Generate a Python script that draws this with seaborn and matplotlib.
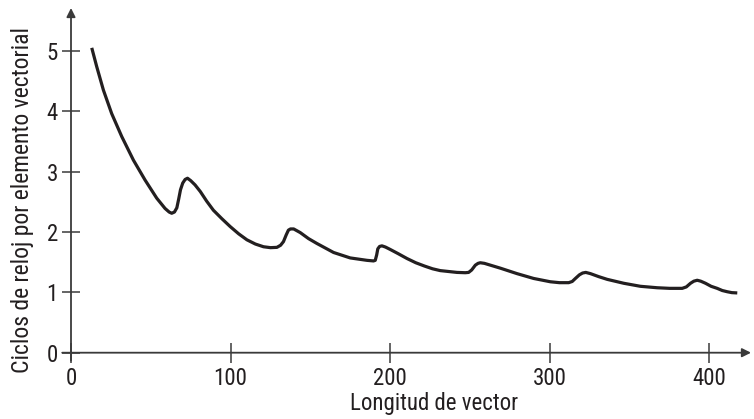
import matplotlib
matplotlib.use("Agg")
import matplotlib.pyplot as plt
from matplotlib import font_manager
import seaborn as sns
import pandas as pd

# values
longitud = [13.0, 16.1, 20.3, 25.5, 31.8, 39.1, 46.4, 53.7, 58.9, 61.5, 63.1, 64.8,
            66.3, 67.5, 68.6, 70.0, 71.5, 73.0, 75.0, 77.7, 81.0, 85.0, 89.2, 94.5,
            99.7, 105.0, 110.2, 115.5, 120.6, 125.0, 129.0, 131.3, 133.1, 134.8, 136.2,
            137.5, 139.5, 143.6, 148.8, 154.0, 164.5, 174.9, 185.4, 189.5, 190.6, 191.5,
            192.2, 193.3, 194.8, 197.0, 200.0, 205.0, 210.5, 216.0, 221.5, 226.5, 231.3,
            241.8, 247.0, 249.1, 251.0, 253.3, 255.0, 256.4, 259.0, 264.0, 269.0, 279.4,
            289.8, 300.3, 306.0, 311.8, 314.0, 316.0, 318.5, 320.5, 322.5, 325.4, 330.6,
            335.9, 346.3, 356.7, 367.2, 375.0, 382.9, 385.5, 388.1, 390.2, 392.3, 394.5,
            397.5, 401.0, 404.8, 408.0, 411.1, 414.0, 417.4]
ciclos = [5.05, 4.74, 4.35, 3.96, 3.58, 3.19, 2.86, 2.56, 2.39, 2.33, 2.31, 2.33,
          2.40, 2.55, 2.70, 2.81, 2.87, 2.89, 2.85, 2.78, 2.67, 2.51, 2.36, 2.22,
          2.09, 1.97, 1.87, 1.80, 1.755, 1.74, 1.745, 1.78, 1.84, 1.95, 2.03,
          2.05, 2.05, 1.99, 1.89, 1.81, 1.66, 1.57, 1.53, 1.52, 1.53, 1.62,
          1.72, 1.76, 1.77, 1.75, 1.71, 1.64, 1.56, 1.49, 1.435, 1.39, 1.36,
          1.33, 1.325, 1.33, 1.37, 1.45, 1.48, 1.49, 1.48, 1.44, 1.40, 1.31,
          1.23, 1.175, 1.16, 1.16, 1.18, 1.23, 1.29, 1.32, 1.33, 1.31, 1.26,
          1.215, 1.15, 1.10, 1.076, 1.066, 1.066, 1.09, 1.15, 1.185, 1.20, 1.185,
          1.15, 1.10, 1.066, 1.03, 1.01, 0.995, 0.99]
xticks = [0, 100, 200, 300, 400]
yticks = [0, 1, 2, 3, 4, 5]

df = pd.DataFrame({"Longitud de vector": longitud,
                   "Ciclos de reloj por elemento vectorial": ciclos})

sns.set_theme(style="white")

# the reference uses a narrow sans; take a condensed face if one is installed
fonts = [(f.name, f.stretch) for f in font_manager.fontManager.ttflist]
narrow = ("condensed", "semi-condensed", "extra-condensed", 75, 87, 62)
family, stretch = None, "normal"
for name in ["Liberation Sans Narrow", "Roboto Condensed", "Noto Sans Condensed",
             "Open Sans Condensed", "Noto Sans", "Open Sans", "Roboto"]:
    hits = [s for n, s in fonts if n == name and s in narrow]
    plain = any(n == name for n, s in fonts)
    if "Condensed" in name or "Narrow" in name:
        if plain:
            family = name
            break
    elif hits:
        family, stretch = name, hits[0]
        break
if family is None:
    family, tick_size, xlab_size, ylab_size = "Roboto", 15, 12.5, 12.5
else:
    tick_size, xlab_size, ylab_size = 16.5, 16.5, 17

plt.rcParams["font.family"] = [family, "DejaVu Sans"]
plt.rcParams["font.stretch"] = stretch
text_col = "#231f20"
axis_col = "#3a3a3a"

fig = plt.figure(figsize=(7.54, 4.19), dpi=100)
ax = fig.add_axes([71 / 754, 1 - 352.7 / 419, 680 / 754, 344.7 / 419])

sns.lineplot(data=df, x="Longitud de vector", y="Ciclos de reloj por elemento vectorial",
             ax=ax, color=text_col, linewidth=2.3, estimator=None, sort=False,
             solid_joinstyle="round", solid_capstyle="butt")

ax.set_xlim(0, 426)
ax.set_ylim(0, 5.71)
for s in ax.spines.values():
    s.set_visible(False)

# axes drawn as arrows, slightly past the origin like the reference
arrow = dict(arrowstyle="-|>", mutation_scale=13, lw=1.3, color=axis_col,
             shrinkA=0, shrinkB=0)
ax.annotate("", xy=(426, 0), xytext=(-5.5, 0), arrowprops=arrow,
            annotation_clip=False)
ax.annotate("", xy=(0, 5.71), xytext=(0, -0.13), arrowprops=arrow,
            annotation_clip=False)

ax.set_xticks(xticks)
ax.set_yticks(yticks)
ax.tick_params(axis="x", direction="inout", length=14, width=1.1, color=axis_col,
               pad=3, labelsize=tick_size, labelcolor=text_col)
ax.tick_params(axis="y", direction="inout", length=13, width=1.1, color=axis_col,
               pad=3, labelsize=tick_size, labelcolor=text_col)
ax.tick_params(bottom=True, left=True)

ax.set_xlabel("")
ax.set_ylabel("")
fig.text(434 / 754, 1 - 410 / 419, "Longitud de vector", fontsize=xlab_size,
         color=text_col, ha="center", va="baseline")
fig.text(23 / 754, 1 - 200 / 419, "Ciclos de reloj por elemento vectorial",
         fontsize=ylab_size, color=text_col, ha="center", va="center", rotation=90)

fig.savefig("out.png", dpi=100)
